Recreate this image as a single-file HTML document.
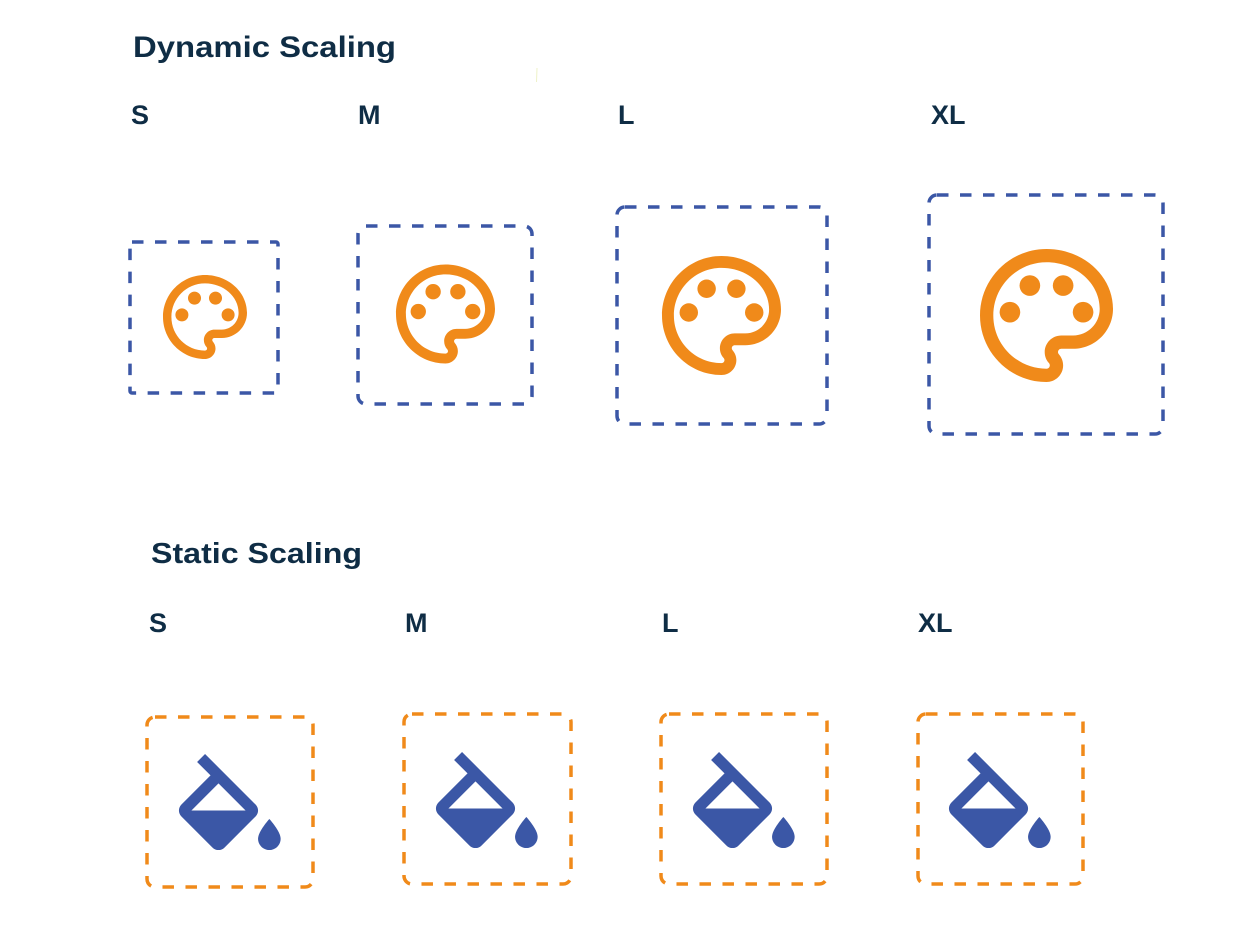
<!DOCTYPE html>
<html>
<head>
<meta charset="utf-8">
<style>
  html, body { margin:0; padding:0; background:#ffffff; }
  body { width:1245px; height:947px; overflow:hidden; }
  svg { display:block; }
  text { font-family:"Liberation Sans", sans-serif; font-weight:bold; fill:#0f2d45; }
</style>
</head>
<body>
<svg width="1245" height="947" viewBox="0 0 1245 947" xmlns="http://www.w3.org/2000/svg">
  <defs>
    <g id="pal">
      <path fill="#f08a1a" d="M12 22C6.49 22 2 17.51 2 12S6.49 2 12 2s10 4.04 10 9c0 3.31-2.690 6-6 6h-1.77c-.28 0-.5.22-.5.5 0 .12.05.23.13.33.41.47.64 1.06.64 1.67 0 1.38-1.12 2.5-2.5 2.5zm0-18c-4.41 0-8 3.59-8 8s3.59 8 8 8c.28 0 .5-.22.5-.5 0-.16-.08-.28-.14-.35-.41-.46-.63-1.05-.63-1.650 0-1.38 1.12-2.5 2.5-2.5H16c2.21 0 4-1.79 4-4 0-3.86-3.59-7-8-7z"/>
      <circle fill="#f08a1a" cx="6.5" cy="11.5" r="1.55"/>
      <circle fill="#f08a1a" cx="9.5" cy="7.5" r="1.55"/>
      <circle fill="#f08a1a" cx="14.5" cy="7.5" r="1.55"/>
      <circle fill="#f08a1a" cx="17.5" cy="11.5" r="1.55"/>
    </g>
    <g id="bucket">
      <path fill="#3b57a6" fill-rule="evenodd" d="M16.56 8.94L7.62 0 6.21 1.41l2.38 2.38-5.15 5.15c-.59.59-.59 1.54 0 2.12l5.5 5.5c.29.29.68.44 1.06.44s.77-.15 1.06-.44l5.5-5.5c.59-.58.59-1.53 0-2.12zM5.21 10L10 5.21 14.79 10H5.21z"/>
      <path fill="#3b57a6" d="M19 11.5s-2 2.17-2 3.5c0 1.1.9 2 2 2s2-.9 2-2c0-1.33-2-3.5-2-3.5z"/>
    </g>
  </defs>

  <line x1="537" y1="68" x2="536.5" y2="82" stroke="#eef2c8" stroke-width="1"/>

  <text x="133" y="57" font-size="30" textLength="263" lengthAdjust="spacingAndGlyphs">Dynamic Scaling</text>
  <text x="151" y="563" font-size="29" textLength="211" lengthAdjust="spacingAndGlyphs">Static Scaling</text>

  <text x="131" y="124" font-size="27">S</text>
  <text x="358" y="124" font-size="27">M</text>
  <text x="618" y="124" font-size="27">L</text>
  <text x="931" y="124" font-size="27">XL</text>

  <text x="149" y="632" font-size="27">S</text>
  <text x="405" y="632" font-size="27">M</text>
  <text x="662" y="632" font-size="27">L</text>
  <text x="918" y="632" font-size="27">XL</text>

  <g fill="none" stroke="#3b57a6" stroke-width="3.5" stroke-dasharray="11.5 11.5">
    <rect x="130" y="242" width="148" height="151" rx="2"/>
    <rect x="358" y="226" width="174" height="178" rx="8"/>
    <rect x="617" y="207" width="210" height="217" rx="8"/>
    <rect x="929" y="195" width="234" height="239" rx="8"/>
  </g>

  <use href="#pal" transform="translate(154.6 266.6) scale(4.2)"/>
  <use href="#pal" transform="translate(386.1 254.6) scale(4.95)"/>
  <use href="#pal" transform="translate(650.1 244.1) scale(5.95)"/>
  <use href="#pal" transform="translate(966.7 235.7) scale(6.65)"/>

  <g fill="none" stroke="#f08a1a" stroke-width="3.5" stroke-dasharray="11.5 11.5">
    <rect x="147" y="717" width="166" height="170" rx="8"/>
    <rect x="404" y="714" width="167" height="170" rx="8"/>
    <rect x="661" y="714" width="166" height="170" rx="8"/>
    <rect x="918" y="714" width="165" height="170" rx="8"/>
  </g>

  <use href="#bucket" transform="translate(162 754) scale(5.65)"/>
  <use href="#bucket" transform="translate(419 752) scale(5.65)"/>
  <use href="#bucket" transform="translate(676 752) scale(5.65)"/>
  <use href="#bucket" transform="translate(932 752) scale(5.65)"/>
</svg>
</body>
</html>
